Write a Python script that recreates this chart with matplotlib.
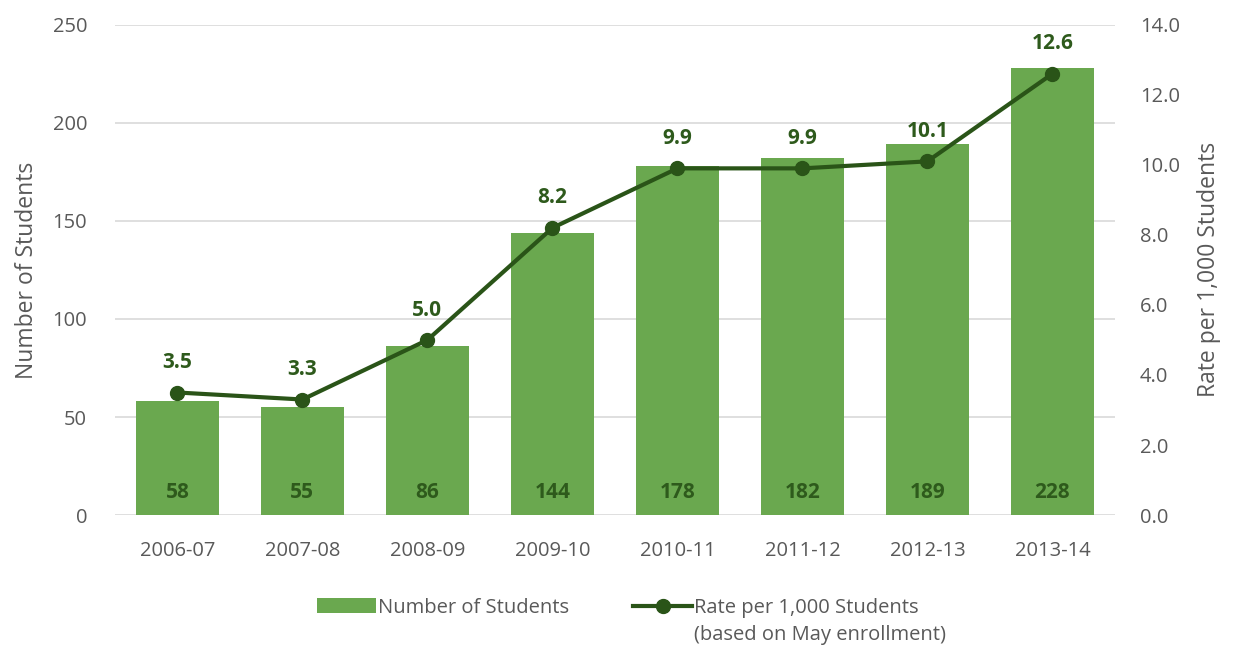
import numpy as np
import matplotlib.pyplot as plt

plt.rcParams['font.family'] = ['Open Sans', 'DejaVu Sans']

years = ['2006-07', '2007-08', '2008-09', '2009-10', '2010-11', '2011-12', '2012-13', '2013-14']
students = [58, 55, 86, 144, 178, 182, 189, 228]
rate = [3.5, 3.3, 5.0, 8.2, 9.9, 9.9, 10.1, 12.6]

bar_col = '#6aa84f'
line_col = '#2a5418'
txt_col = '#595959'

fig = plt.figure(figsize=(12.36, 6.52), dpi=100)
ax = fig.add_axes([0.093, 0.21, 0.809, 0.752])
ax2 = ax.twinx()

x = np.arange(len(years))
bars = ax.bar(x, students, width=0.67, color=bar_col, zorder=2, label='Number of Students')
for xi, v in zip(x, students):
    ax.text(xi, 6, str(v), ha='center', va='bottom', fontsize=15, fontweight='bold', color='#2e5a1c', zorder=3)

ln, = ax2.plot(x, rate, color=line_col, lw=3, marker='o', ms=10, zorder=4,
               label='Rate per 1,000 Students')
for xi, v in zip(x, rate):
    ax2.annotate(f'{v:.1f}', (xi, v), xytext=(0, 14), textcoords='offset points',
                 ha='center', va='bottom', fontsize=15, fontweight='bold', color='#2e5a1c')

ax.set_xlim(-0.5, len(years) - 0.5)
ax.set_ylim(0, 250)
ax.set_yticks(range(0, 251, 50))
ax2.set_ylim(0, 14)
ax2.set_yticks(np.arange(0, 14.1, 2))
ax2.set_yticklabels([f'{t:.1f}' for t in np.arange(0, 14.1, 2)])
ax.set_xticks(x)
ax.set_xticklabels(years)

ax.grid(axis='y', color='#d9d9d9', lw=1.2, zorder=0)
ax.set_axisbelow(True)
ax2.set_zorder(ax.get_zorder() + 1)
ax2.patch.set_visible(False)

for a in (ax, ax2):
    for s in a.spines.values():
        s.set_visible(False)
    a.tick_params(length=0, labelsize=14.5, colors=txt_col)
ax.tick_params(axis='x', pad=19)
ax.tick_params(axis='y', pad=20)
ax2.tick_params(axis='y', pad=18)

ax.set_ylabel('Number of Students', fontsize=16.5, color=txt_col, labelpad=10)
ax2.set_ylabel('Rate per 1,000 Students', fontsize=16.5, color=txt_col, labelpad=12)

leg = fig.legend(handles=[bars, ln], loc='lower center', bbox_to_anchor=(0.5, 0.025), ncol=2,
                 frameon=False, fontsize=14.5, labelcolor=txt_col, handlelength=2.9,
                 columnspacing=3.2, handletextpad=0.1)

# second line of the rate legend entry, under the first
fig.canvas.draw()
bb = leg.get_texts()[1].get_window_extent()
fx, fy = fig.transFigure.inverted().transform((bb.x0, bb.y0))
fig.text(fx, fy - 0.012, '(based on May enrollment)', ha='left', va='top',
         fontsize=14.5, color=txt_col)

fig.savefig('out.png', dpi=100)
